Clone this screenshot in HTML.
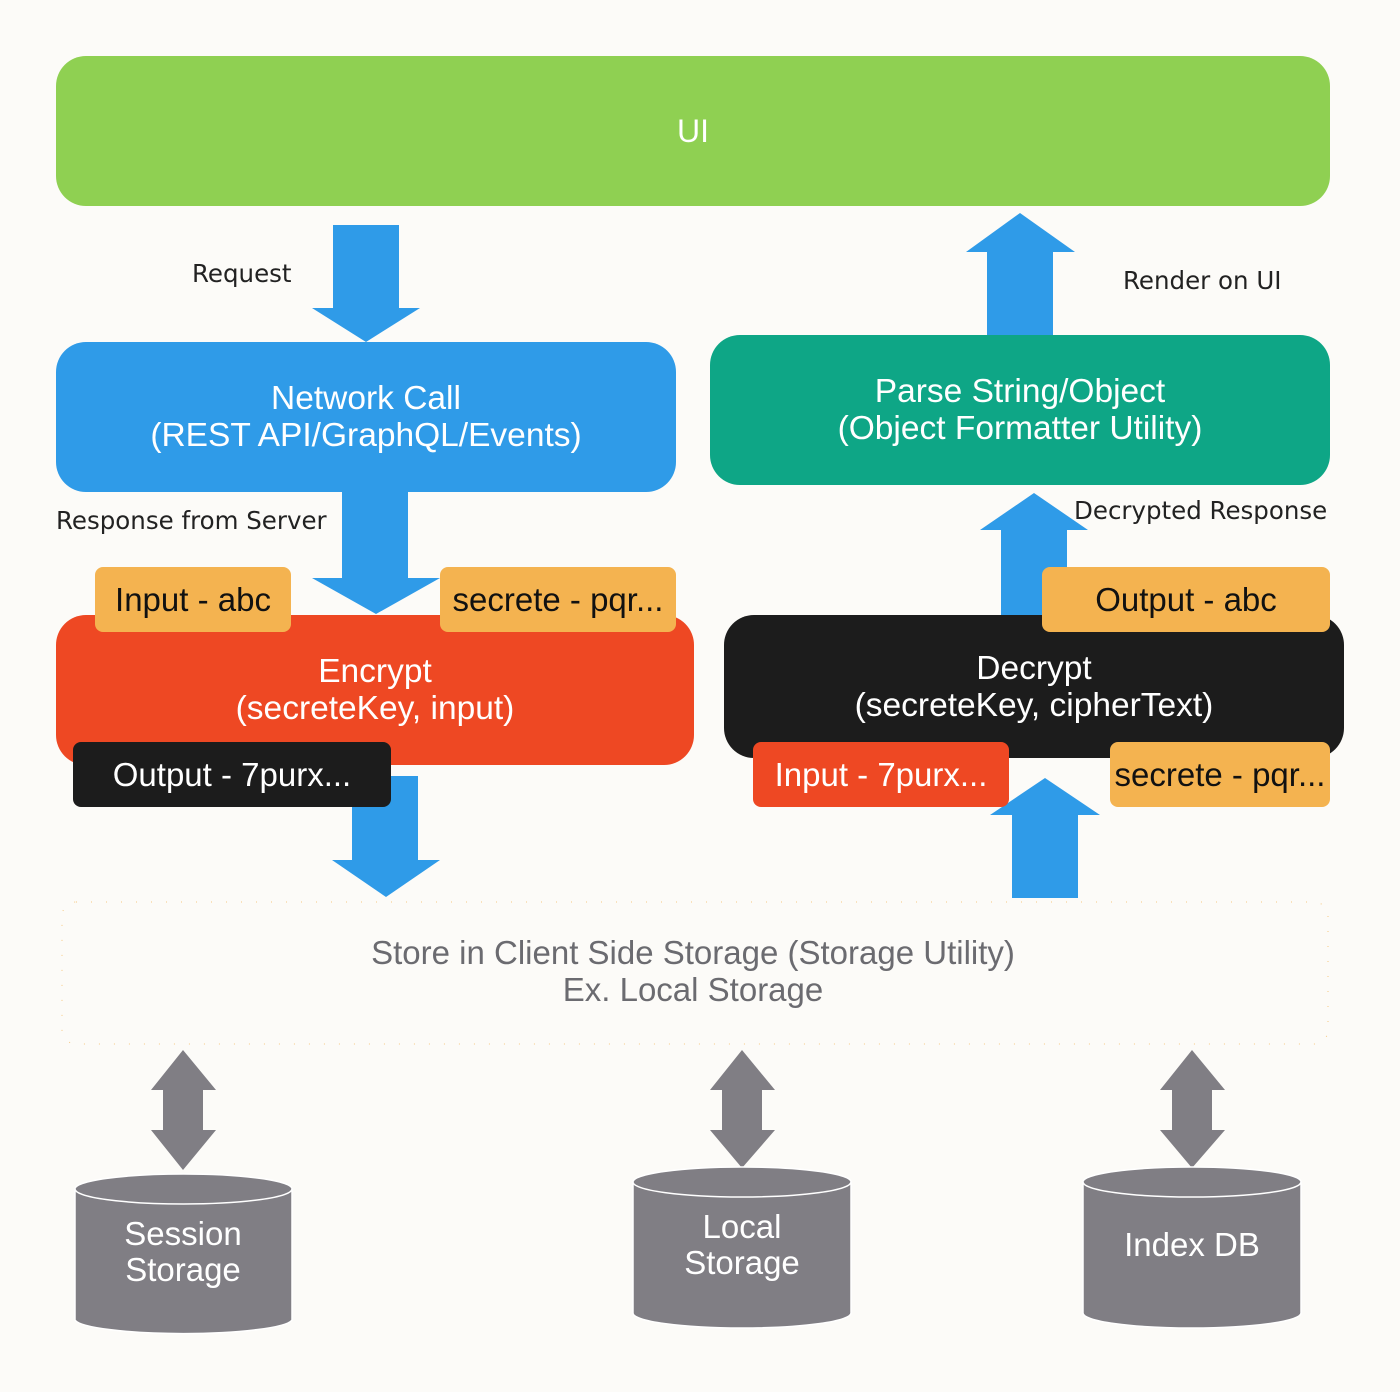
<!DOCTYPE html>
<html><head><meta charset="utf-8"><style>
body{margin:0;background:#fcfbf8;}
#c{position:relative;width:1400px;height:1392px;overflow:hidden;font-family:"Liberation Sans",Arial,sans-serif;}
.b{position:absolute;display:flex;align-items:center;justify-content:center;text-align:center;color:#fff;font-size:33.5px;line-height:37px;}
.t{position:absolute;font-family:"DejaVu Sans","Liberation Sans",sans-serif;font-size:24.5px;color:#222;white-space:nowrap;}
.g{position:absolute;border-radius:8px;display:flex;align-items:center;justify-content:center;font-size:33px;white-space:nowrap;}
svg{position:absolute;left:0;top:0;}
</style></head><body><div id="c">
<svg width="1400" height="1392">
<g fill="#2f9be8">
<polygon points="333,225 399,225 399,308 420,308 366,342 312,308 333,308"/>
<polygon points="342,490 408,490 408,578 440,578 376,614 312,578 342,578"/>
<polygon points="352,776 418,776 418,860 440,860 386,897 332,860 352,860"/>
<polygon points="987,340 1053,340 1053,252 1075,252 1020,213 966,252 987,252"/>
<polygon points="1001,615 1067,615 1067,530 1088,530 1034,493 980,530 1001,530"/>
<polygon points="1012,898 1078,898 1078,815 1100,815 1045,778 990,815 1012,815"/>
</g>
<rect x="62" y="902" width="1266" height="142" rx="14" fill="none" stroke="#f4b350" stroke-width="1" stroke-dasharray="1 14" opacity="0.7"/>
<g fill="#807e84">
<polygon points="183,1050 216,1090 203,1090 203,1130 216,1130 183,1170 151,1130 163,1130 163,1090 151,1090"/>
<polygon points="742,1050 775,1090 762,1090 762,1130 775,1130 742,1168 710,1130 722,1130 722,1090 710,1090"/>
<polygon points="1192,1050 1225,1090 1212,1090 1212,1130 1225,1130 1192,1168 1160,1130 1172,1130 1172,1090 1160,1090"/>
</g>
<g fill="#807e84" stroke="#fff" stroke-width="1.5">
<path d="M75,1189 L75,1320 A109,15 0 0 0 292,1320 L292,1189 Z"/>
<ellipse cx="183.5" cy="1189" rx="108.5" ry="15"/>
<path d="M633,1182 L633,1313 A109,15 0 0 0 851,1313 L851,1182 Z"/>
<ellipse cx="742" cy="1182" rx="109" ry="15"/>
<path d="M1083,1182 L1083,1313 A109,15 0 0 0 1301,1313 L1301,1182 Z"/>
<ellipse cx="1192" cy="1182" rx="109" ry="15"/>
</g>
<g fill="#fff" font-family="Liberation Sans, Arial, sans-serif" font-size="33" text-anchor="middle">
<text x="183" y="1245">Session</text><text x="183" y="1281">Storage</text>
<text x="742" y="1238">Local</text><text x="742" y="1274">Storage</text>
<text x="1192" y="1256">Index DB</text>
</g>
<g fill="#6b6b70" font-family="Liberation Sans, Arial, sans-serif" font-size="33" text-anchor="middle">
<text x="693" y="964">Store in Client Side Storage (Storage Utility)</text>
<text x="693" y="1001">Ex. Local Storage</text>
</g>
</svg>
<div class="b" style="left:56px;top:56px;width:1274px;height:150px;border-radius:30px;background:#8fd052;font-size:32px;">UI</div>
<div class="t" style="left:192px;top:259px;">Request</div>
<div class="t" style="left:1123px;top:266px;">Render on UI</div>
<div class="t" style="left:56px;top:506px;">Response from Server</div>
<div class="t" style="left:1074px;top:496px;">Decrypted Response</div>
<div class="b" style="left:56px;top:342px;width:620px;height:150px;border-radius:30px;background:#2f9be8;">Network Call<br>(REST API/GraphQL/Events)</div>
<div class="b" style="left:710px;top:335px;width:620px;height:150px;border-radius:30px;background:#0ea686;">Parse String/Object<br>(Object Formatter Utility)</div>
<div class="b" style="left:56px;top:615px;width:638px;height:150px;border-radius:30px;background:#ee4823;">Encrypt<br>(secreteKey, input)</div>
<div class="b" style="left:724px;top:615px;width:620px;height:143px;border-radius:30px;background:#1c1c1c;">Decrypt<br>(secreteKey, cipherText)</div>
<div class="g" style="left:95px;top:567px;width:196px;height:65px;background:#f4b350;color:#111;">Input - abc</div>
<div class="g" style="left:440px;top:567px;width:236px;height:65px;background:#f4b350;color:#111;">secrete - pqr...</div>
<div class="g" style="left:73px;top:742px;width:318px;height:65px;background:#1c1c1c;color:#fff;">Output - 7purx...</div>
<div class="g" style="left:1042px;top:567px;width:288px;height:65px;background:#f4b350;color:#111;">Output - abc</div>
<div class="g" style="left:753px;top:742px;width:256px;height:65px;background:#ee4823;color:#fff;">Input - 7purx...</div>
<div class="g" style="left:1110px;top:742px;width:220px;height:65px;background:#f4b350;color:#111;">secrete - pqr...</div>
</div></body></html>
